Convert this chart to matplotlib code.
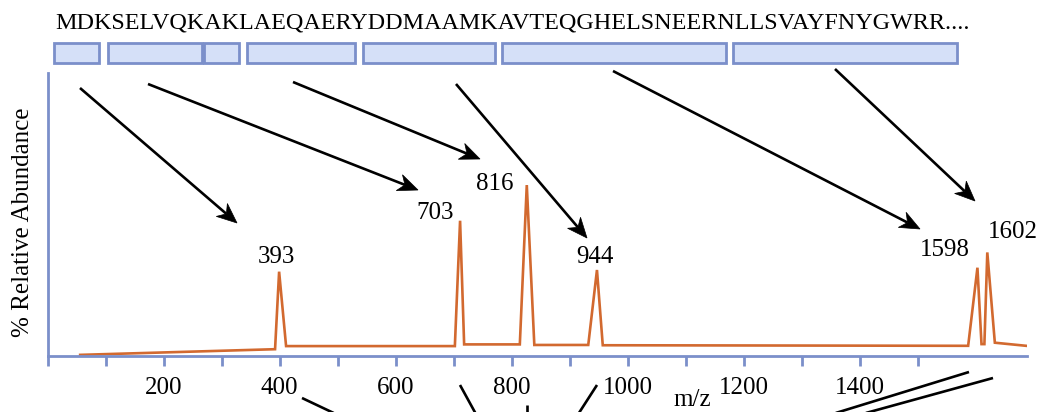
import numpy as np
import matplotlib
matplotlib.use("Agg")
import matplotlib.pyplot as plt
from matplotlib.patches import Rectangle, Polygon
from matplotlib.ticker import FixedLocator, FuncFormatter

plt.rcParams['font.family'] = ['Liberation Serif', 'DejaVu Serif']

# spectrum trace (m/z, % relative abundance)
mz = [56, 392, 399, 411, 702, 711, 718, 814, 826, 839, 932, 947, 957,
      1587, 1603, 1610, 1615, 1620, 1633, 1687]
abundance = [0.4, 2.4, 29.8, 3.5, 3.5, 47.8, 4.1, 4.1, 60.4, 3.9, 3.9, 30.4, 3.8,
             3.6, 31.2, 4.2, 4.2, 36.6, 4.7, 3.6]

peak_labels = ["393", "703", "816", "944", "1598", "1602"]
# label centres in figure pixels
label_xy = [(276, 257), (435, 213), (495, 184), (595, 257), (945, 250), (1013, 232)]

sequence = "MDKSELVQKAKLAEQAERYDDMAAMKAVTEQGHELSNEERNLLSVAYFNYGWRR...."
# peptide segments under the sequence (pixel start / end)
seg_start = [54, 108, 204, 247, 363, 502, 733]
seg_end = [99, 202, 239, 355, 495, 726, 957]

# arrows from peptides to peaks (pixel start -> tip)
arrow_from = [(80, 88), (148, 84), (293, 82), (456, 84), (613, 71), (835, 69)]
arrow_to = [(237, 223), (418, 190), (480, 159), (587, 238), (920, 229), (975, 201)]

# partial lines going off the bottom edge
bottom_from = [(302, 398), (460, 385), (527, 405), (597, 385), (969, 372), (993, 378)]
bottom_to = [(340, 416), (477, 416), (527, 416), (577, 416), (826, 416), (855, 416)]

axis_blue = '#7b8fca'
orange = '#d2692f'

fig = plt.figure(figsize=(10.43, 4.12), dpi=100)
W, H = 1043, 412

# spectrum axes
x0, x1, ytop, ybot = 47.7, 1027, 73, 356
ax = fig.add_axes([x0 / W, (H - ybot) / H, (x1 - x0) / W, (ybot - ytop) / H])
ax.plot(mz, abundance, color=orange, lw=1.9, solid_joinstyle='miter')
ax.set_xlim(0, (x1 - x0) / 0.58)
ax.set_ylim(0, 100)
for s in ['top', 'right']:
    ax.spines[s].set_visible(False)
for s in ['left', 'bottom']:
    ax.spines[s].set_color(axis_blue)
    ax.spines[s].set_linewidth(2)
ax.set_yticks([])
ax.xaxis.set_major_locator(FixedLocator(range(0, 1600, 100)))
ax.xaxis.set_major_formatter(FuncFormatter(
    lambda v, p: f"{int(v)}" if 200 <= v <= 1400 and int(v) % 200 == 0 else ""))
ax.tick_params(axis='x', colors=axis_blue, labelcolor='black', length=7, width=2,
               labelsize=18, pad=8)
ax.patch.set_alpha(0)

# overlay in pixel coordinates for the diagram parts
ov = fig.add_axes([0, 0, 1, 1])
ov.set_xlim(0, W)
ov.set_ylim(H, 0)
ov.axis('off')
ov.patch.set_alpha(0)

ov.text(55, 28, sequence, fontsize=17.4, ha='left', va='baseline')
for a, b in zip(seg_start, seg_end):
    ov.add_patch(Rectangle((a, 42.5), b - a, 20, facecolor='#d5e0f8',
                           edgecolor=axis_blue, lw=2))

for (sx, sy), (tx, ty) in zip(arrow_from, arrow_to):
    u = np.array([tx - sx, ty - sy], float)
    u /= np.hypot(*u)
    n = np.array([-u[1], u[0]])
    tip = np.array([tx, ty], float)
    back = tip - 20 * u
    notch = tip - 14 * u
    ov.plot([sx, notch[0]], [sy, notch[1]], color='black', lw=1.9,
            solid_capstyle='butt')
    ov.add_patch(Polygon([tip, back + 8.5 * n, notch, back - 8.5 * n],
                         closed=True, facecolor='black', edgecolor='black', lw=0.5))

for (sx, sy), (tx, ty) in zip(bottom_from, bottom_to):
    ov.plot([sx, tx], [sy, ty], color='black', lw=1.9, solid_capstyle='butt')

for lab, (lx, ly) in zip(peak_labels, label_xy):
    ov.text(lx, ly, lab, fontsize=18, ha='center', va='center')

ov.text(692, 400, "m/z", fontsize=18, ha='center', va='center')
ov.text(23, 222, "% Relative Abundance", fontsize=18, ha='center', va='center',
        rotation=90)

fig.savefig("out.png", dpi=100)
